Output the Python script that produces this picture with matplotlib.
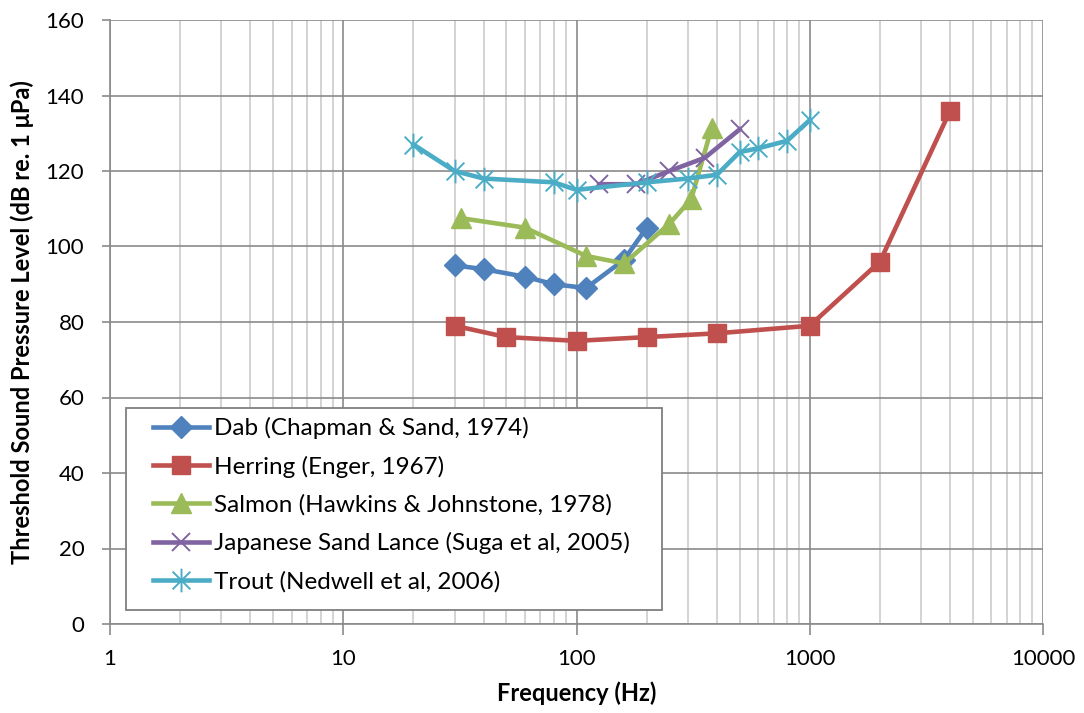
import matplotlib
matplotlib.use("Agg")
import matplotlib.pyplot as plt
from matplotlib.ticker import FixedLocator, NullFormatter, FuncFormatter
from matplotlib.path import Path
from matplotlib.patches import Rectangle

plt.rcParams['font.family'] = ['Lato', 'DejaVu Sans']

# Data
dab_f = [30, 40, 60, 80, 110, 160, 200]
dab_db = [95, 94, 92, 90, 89, 96.5, 105]

herring_f = [30, 50, 100, 200, 400, 1000, 2000, 4000]
herring_db = [79, 76, 75, 76, 77, 79, 96, 136]

salmon_f = [32, 60, 110, 160, 250, 310, 380]
salmon_db = [107.5, 105, 97.5, 95.5, 106, 112.5, 131.5]

lance_f = [125, 180, 250, 355, 500]
lance_db = [116.5, 116.5, 120, 123.5, 131]

trout_f = [20, 30, 40, 80, 100, 200, 300, 400, 500, 600, 800, 1000]
trout_db = [127, 120, 118, 117, 115, 117, 118, 119, 125, 126, 128, 133.5]

labels = ["Dab (Chapman & Sand, 1974)", "Herring (Enger, 1967)",
          "Salmon (Hawkins & Johnstone, 1978)",
          "Japanese Sand Lance (Suga et al, 2005)",
          "Trout (Nedwell et al, 2006)"]
colors = ["#4F81BD", "#C0504D", "#9BBB59", "#8064A2", "#4BACC6"]

# asterisk marker: vertical bar plus X
star = Path([(0, -1), (0, 1), (-0.75, -0.75), (0.75, 0.75), (-0.75, 0.75), (0.75, -0.75)],
            [Path.MOVETO, Path.LINETO, Path.MOVETO, Path.LINETO, Path.MOVETO, Path.LINETO])

W, H = 1084, 713
fig = plt.figure(figsize=(W / 100, H / 100), dpi=100)
ax = fig.add_axes([110 / W, 1 - 624 / H, (1043 - 110) / W, (624 - 20) / H])

lw = 3.3
ax.plot(dab_f, dab_db, color=colors[0], lw=lw, marker='D', ms=11, label=labels[0], zorder=3)
ax.plot(herring_f, herring_db, color=colors[1], lw=lw, marker='s', ms=13.5, label=labels[1], zorder=3)
ax.plot(salmon_f, salmon_db, color=colors[2], lw=lw, marker='^', ms=14, label=labels[2], zorder=3)
ax.plot(lance_f, lance_db, color=colors[3], lw=lw, marker='x', ms=13, mew=1.4, label=labels[3], zorder=3)
ax.plot(trout_f, trout_db, color=colors[4], lw=lw, marker=star, ms=17, mew=1.4, label=labels[4], zorder=4)

ax.set_xscale('log')
ax.set_xlim(1, 10000)
ax.set_ylim(0, 160)
ax.set_yticks(range(0, 161, 20))
ax.xaxis.set_major_locator(FixedLocator([1, 10, 100, 1000, 10000]))
ax.xaxis.set_major_formatter(FuncFormatter(lambda v, p: f"{int(round(v))}"))
minors = [m * 10**e for e in range(0, 4) for m in range(2, 10)]
ax.xaxis.set_minor_locator(FixedLocator(minors))
ax.xaxis.set_minor_formatter(NullFormatter())

ax.grid(which='major', color='#8a8a8a', lw=1.2)
ax.grid(which='minor', axis='x', color='#c8c8c8', lw=1.1)
ax.set_axisbelow(True)

for s in ['top', 'right']:
    ax.spines[s].set_visible(False)
ax.spines['left'].set_color('#8a8a8a')
ax.spines['bottom'].set_color('#8a8a8a')
ax.spines['left'].set_linewidth(1.2)
ax.spines['bottom'].set_linewidth(1.2)
ax.tick_params(axis='both', which='major', labelsize=16, length=6, width=1.2,
               color='#8a8a8a', labelcolor='black')
ax.tick_params(axis='x', which='major', pad=10, length=8)
ax.tick_params(axis='y', which='major', pad=12.5)
ax.tick_params(axis='x', which='minor', length=0)

ax.set_xlabel("Frequency (Hz)", fontsize=17, fontweight='bold', labelpad=9)
ax.set_ylabel("Threshold Sound Pressure Level (dB re. 1 μPa)", fontsize=17,
              fontweight='bold', labelpad=8)

# legend box
box = Rectangle((126 / W, 1 - 610 / H), (662 - 126) / W, (610 - 408) / H,
                transform=fig.transFigure, facecolor='white', edgecolor='#7f7f7f',
                lw=1.3, zorder=9)
fig.add_artist(box)
leg = fig.legend(loc='upper left', bbox_to_anchor=(153 / W, 1 - 417 / H),
                 bbox_transform=fig.transFigure,
                 fontsize=17.5, frameon=False, handlelength=2.3, borderpad=0,
                 borderaxespad=0, labelspacing=0.68, handletextpad=0.2)
leg.set_zorder(10)

fig.savefig("out.png", dpi=100)
